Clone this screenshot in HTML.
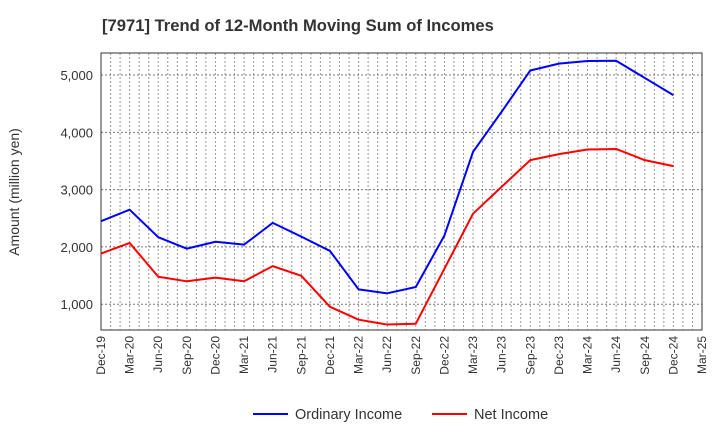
<!DOCTYPE html>
<html><head><meta charset="utf-8"><style>
body{margin:0;background:#fff;font-family:"Liberation Sans",sans-serif;}
</style></head><body>
<svg id="chart" width="720" height="440" xmlns="http://www.w3.org/2000/svg" font-family="Liberation Sans, sans-serif">
<text x="102" y="31" font-size="16.6" font-weight="bold" fill="#333">[7971]  Trend of 12-Month Moving Sum of Incomes</text>
<text transform="translate(19,192) rotate(-90)" text-anchor="middle" font-size="14" fill="#333">Amount (million yen)</text>
<g id="grid"></g><g id="axes"></g><g id="series"></g>
<g>
<line x1="253" y1="414" x2="288" y2="414" stroke="#0000ff" stroke-width="2"/>
<text x="295" y="419" font-size="14.5" fill="#333">Ordinary Income</text>
<line x1="432" y1="414" x2="467" y2="414" stroke="#ff0000" stroke-width="2"/>
<text x="474" y="419" font-size="14.5" fill="#333">Net Income</text>
</g>
</svg>
<script>
const categories=["Dec-19","Mar-20","Jun-20","Sep-20","Dec-20","Mar-21","Jun-21","Sep-21","Dec-21","Mar-22","Jun-22","Sep-22","Dec-22","Mar-23","Jun-23","Sep-23","Dec-23","Mar-24","Jun-24","Sep-24","Dec-24","Mar-25"];
const ordinaryIncome=[2450,2650,2170,1970,2090,2040,2420,2180,1930,1260,1190,1300,2200,3660,4360,5080,5200,5245,5250,4950,4650];
const netIncome=[1885,2070,1480,1400,1465,1400,1665,1495,955,730,645,660,1620,2580,3050,3515,3620,3700,3710,3515,3410];
const yTicks=[1000,2000,3000,4000,5000];
const L=101,R=702,T=53,B=330,yMin=550,yMax=5385;
const NS="http://www.w3.org/2000/svg";
const xs=i=>L+(R-L)*i/(categories.length-1);
const ys=v=>B-(v-yMin)/(yMax-yMin)*(B-T);
function mk(tag,attrs,parent){const e=document.createElementNS(NS,tag);for(const k in attrs)e.setAttribute(k,attrs[k]);parent.appendChild(e);return e;}
const grid=document.getElementById('grid'),axes=document.getElementById('axes'),ser=document.getElementById('series');
const nMonths=(categories.length-1)*3;
for(let m=1;m<nMonths;m++){const x=L+(R-L)*m/nMonths;const g=mk('line',{x1:x,x2:x,y1:T,y2:B,stroke:'#999','stroke-width':1,'stroke-dasharray':'2,2'},grid);

}
yTicks.forEach(v=>{const y=ys(v);const g=mk('line',{x1:L,x2:R,y1:y,y2:y,stroke:'#777','stroke-width':1,'stroke-dasharray':'2,2'},grid);


const t=mk('text',{x:L-8,y:y+5,'text-anchor':'end','font-size':13,fill:'#333'},axes);t.textContent=v.toLocaleString('en-US');

});
const fr=mk('rect',{x:L,y:T,width:R-L,height:B-T,fill:'none',stroke:'#333','stroke-width':1},axes);


categories.forEach((c,i)=>{const x=xs(i);const t=mk('text',{transform:`translate(${x+4},${B+6}) rotate(-90)`,'text-anchor':'end','font-size':12,fill:'#333'},axes);t.textContent=c;

});
function line(d,color,name){const p=mk('polyline',{points:d.map((v,i)=>xs(i)+','+ys(v)).join(' '),fill:'none',stroke:color,'stroke-width':2,'stroke-linejoin':'round'},ser);

}
line(ordinaryIncome,'#0000ff','ordinary-income-line');
line(netIncome,'#ff0000','net-income-line');
</script>
</body></html>
